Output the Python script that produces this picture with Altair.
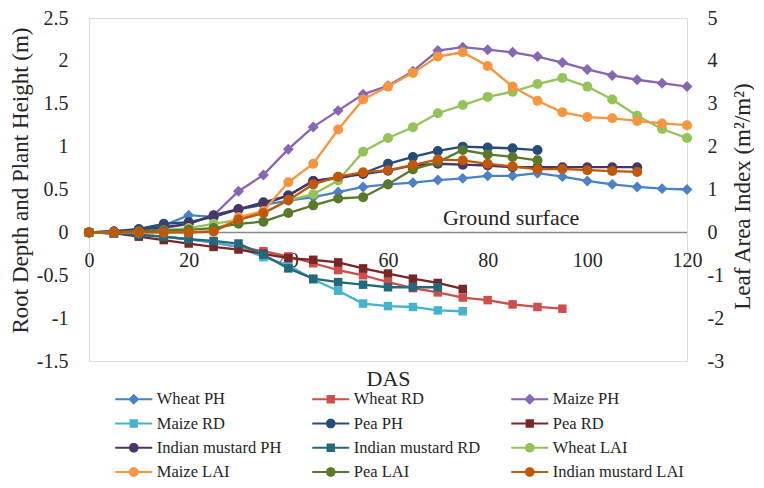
import math
import altair as alt
import pandas as pd

# ---------------- data ----------------
DAS = [0, 5, 10, 15, 20, 25, 30, 35, 40, 45, 50, 55, 60, 65, 70, 75, 80, 85, 90, 95, 100, 105, 110, 115, 120]

SERIES = ["Wheat PH", "Wheat RD", "Maize PH", "Maize RD", "Pea PH", "Pea RD",
          "Indian mustard PH", "Indian mustard RD", "Wheat LAI", "Maize LAI",
          "Pea LAI", "Indian mustard LAI"]

wheat_ph = [0, 0.01, 0.03, 0.08, 0.2, 0.18, 0.27, 0.32, 0.37, 0.41, 0.47, 0.53, 0.56, 0.58,
            0.61, 0.63, 0.66, 0.66, 0.69, 0.65, 0.6, 0.56, 0.53, 0.51, 0.5]
wheat_rd = [0, -0.01, -0.03, -0.05, -0.08, -0.12, -0.17, -0.22, -0.28, -0.36, -0.44, -0.5,
            -0.58, -0.65, -0.7, -0.76, -0.79, -0.84, -0.87, -0.89]
maize_ph = [0, 0.01, 0.03, 0.05, 0.1, 0.2, 0.48, 0.67, 0.97, 1.23, 1.42, 1.61, 1.71, 1.88,
            2.12, 2.16, 2.13, 2.1, 2.05, 1.98, 1.9, 1.83, 1.78, 1.74, 1.7]
maize_rd = [0, -0.01, -0.03, -0.05, -0.08, -0.12, -0.17, -0.29, -0.38, -0.55, -0.68, -0.83,
            -0.86, -0.87, -0.91, -0.92]
pea_ph = [0, 0.01, 0.04, 0.1, 0.12, 0.18, 0.27, 0.33, 0.43, 0.6, 0.63, 0.69, 0.8, 0.88,
          0.95, 1.0, 0.99, 0.98, 0.96]
pea_rd = [0, -0.01, -0.05, -0.09, -0.13, -0.17, -0.2, -0.25, -0.3, -0.32, -0.35, -0.42,
          -0.48, -0.54, -0.59, -0.66]
im_ph = [0, 0.01, 0.03, 0.06, 0.1, 0.2, 0.27, 0.35, 0.43, 0.6, 0.64, 0.68, 0.72, 0.78,
         0.8, 0.79, 0.78, 0.76, 0.76, 0.76, 0.76, 0.76, 0.76]
im_rd = [0, -0.01, -0.03, -0.05, -0.08, -0.1, -0.13, -0.26, -0.42, -0.54, -0.58, -0.61,
         -0.64, -0.64, -0.64]
wheat_lai = [0, 0, 0.02, 0.05, 0.1, 0.2, 0.3, 0.45, 0.75, 0.89, 1.21, 1.88, 2.2, 2.45,
             2.78, 2.97, 3.16, 3.28, 3.46, 3.6, 3.4, 3.1, 2.72, 2.41, 2.2]
maize_lai = [0, 0, 0, 0, 0, 0.02, 0.35, 0.5, 1.17, 1.6, 2.4, 3.1, 3.4, 3.72, 4.1, 4.2,
             3.88, 3.4, 3.07, 2.8, 2.69, 2.66, 2.6, 2.54, 2.5]
pea_lai = [0, 0, 0.03, 0.05, 0.06, 0.1, 0.2, 0.25, 0.45, 0.63, 0.79, 0.82, 1.12, 1.47,
           1.64, 1.92, 1.82, 1.76, 1.68]
im_lai = [0, 0, 0, 0, 0, 0.02, 0.3, 0.45, 0.75, 1.12, 1.3, 1.4, 1.45, 1.57, 1.7, 1.68,
          1.6, 1.54, 1.47, 1.48, 1.45, 1.43, 1.41]

VALUES = [wheat_ph, wheat_rd, maize_ph, maize_rd, pea_ph, pea_rd, im_ph, im_rd,
          wheat_lai, maize_lai, pea_lai, im_lai]
MARKERS = ["diamond", "square", "diamond", "square", "circle", "square", "circle", "square",
           "circle", "circle", "circle", "circle"]
SIDES = ["left"] * 8 + ["right"] * 4

COLORS = ["#4A82C8", "#CD4F4C", "#8766B5", "#45B3D0", "#264C7C", "#7A2626",
          "#4B3566", "#22697D", "#94C457", "#F8953F", "#587A2A", "#C0580A"]

X_TICKS = [0, 20, 40, 60, 80, 100, 120]
LEFT_TICKS = [-1.5, -1, -0.5, 0, 0.5, 1, 1.5, 2, 2.5]
RIGHT_TICKS = [-3, -2, -1, 0, 1, 2, 3, 4, 5]
GROUND = [0]

NOTE_TEXT = ["Ground surface"]
NOTE_X = [84.7]
NOTE_Y = [0.17]

# ---------------- table ----------------
rows = []
for i, (name, vals, mk, side, col) in enumerate(zip(SERIES, VALUES, MARKERS, SIDES, COLORS)):
    for d, v in zip(DAS, vals):
        rows.append({"series": name, "das": d, "value": v, "marker": mk, "side": side,
                     "hex": col, "k": i})
df = pd.DataFrame(rows)
note_df = pd.DataFrame({"text": NOTE_TEXT, "das": NOTE_X, "value": NOTE_Y})
ground_df = pd.DataFrame({"value": GROUND})


# legend symbols: a short line with the series marker (path units; 1 unit = sqrt(size)/2 px)
def poly(n, r):
    pts = [(r * math.cos(2 * math.pi * j / n), r * math.sin(2 * math.pi * j / n)) for j in range(n)]
    return "M" + "L".join(f"{x:.3f},{y:.3f}" for x, y in pts) + "Z"


LINE = "M-2,-0.11L2,-0.11L2,0.11L-2,0.11Z"
SYM = {
    "diamond": "M0,-0.6L0.6,0L0,0.6L-0.6,0Z",
    "square": "M-0.45,-0.45L0.45,-0.45L0.45,0.45L-0.45,0.45Z",
    "circle": poly(24, 0.52),
}
LEGEND_PATHS = [LINE + SYM[m] for m in MARKERS]

FONT = "Liberation Serif, Times New Roman, serif"
TXT = "#262626"
H = 343
W = 598
ZERO_PX = H * 1.5 / 4  # distance of y=0 above the plot bottom

x_axis = alt.Axis(values=X_TICKS, title="DAS", grid=False, ticks=False, domain=False,
                  labelFont=FONT, labelFontSize=20, labelColor=TXT,
                  labelPadding=-(ZERO_PX - 18), labelFlush=False, labelOverlap=False,
                  titleFont=FONT, titleFontSize=22, titleFontWeight="normal", titleColor=TXT,
                  titleY=17, titleBaseline="middle")
xs = alt.Scale(domain=[0, 120], nice=False, zero=False)
x_enc = alt.X("das:Q", scale=xs, axis=x_axis)

left_axis = alt.Axis(values=LEFT_TICKS, title="Root Depth and Plant Height (m)", grid=False,
                     ticks=False, domain=False, labelExpr="'' + datum.value",
                     labelFont=FONT, labelFontSize=20, labelColor=TXT, labelPadding=21,
                     titleFont=FONT, titleFontSize=23, titleFontWeight="normal", titleColor=TXT,
                     titleAngle=270, titleX=-69, titleY=162, titleBaseline="middle",
                     titleAlign="center")
right_axis = alt.Axis(values=RIGHT_TICKS, orient="right", title="Leaf Area Index (m²/m²)",
                      grid=False, ticks=False, domain=False, labelExpr="'' + datum.value",
                      labelFont=FONT, labelFontSize=20, labelColor=TXT, labelPadding=20,
                      titleFont=FONT, titleFontSize=23, titleFontWeight="normal", titleColor=TXT,
                      titleAngle=270, titleX=55, titleY=178, titleBaseline="middle",
                      titleAlign="center")
ls = alt.Scale(domain=[-1.5, 2.5], nice=False, zero=False)
rs = alt.Scale(domain=[-3, 5], nice=False, zero=False)
y_left = alt.Y("value:Q", scale=ls, axis=left_axis)
y_left_na = alt.Y("value:Q", scale=ls, axis=None)
y_right = alt.Y("value:Q", scale=rs, axis=right_axis)
y_right_na = alt.Y("value:Q", scale=rs, axis=None)

stroke_c = alt.Stroke("hex:N", scale=None)
fill_c = alt.Fill("hex:N", scale=None)

SYM_PX = 18.5
legend = alt.Legend(title=None, orient="none", direction="horizontal", legendX=26,
                    legendY=381 - SYM_PX / 2, columns=3,
                    columnPadding=30, rowPadding=6.25, padding=0, symbolSize=SYM_PX ** 2,
                    symbolStrokeWidth=0, symbolOffset=SYM_PX / 2, labelOffset=13.5,
                    labelFont=FONT, labelFontSize=16.5, labelColor=TXT, labelLimit=400)

base = alt.Chart(df)
left_base = base.transform_filter(alt.datum.side == "left")
right_base = base.transform_filter(alt.datum.side == "right")

ground = alt.Chart(ground_df).mark_rule(color="#8a8a8a", strokeWidth=1.5).encode(y=y_left_na)

lines_l = left_base.mark_line(strokeWidth=2.3).encode(x=x_enc, y=y_left, stroke=stroke_c,
                                                      detail="series:N", order="das:Q")
pts_l = [left_base.transform_filter(alt.datum.marker == m)
         .mark_point(shape=m, filled=True, opacity=1, size=s, strokeWidth=0)
         .encode(x=x_enc, y=y_left_na, fill=fill_c)
         for m, s in [("diamond", 120), ("square", 72), ("circle", 100)]]

note = alt.Chart(note_df).mark_text(font=FONT, fontSize=22, color=TXT, align="center",
                                    baseline="middle").encode(
    x=x_enc, y=y_left_na, text="text:N")

lines_r = right_base.mark_line(strokeWidth=2.3).encode(x=x_enc, y=y_right, stroke=stroke_c,
                                                       detail="series:N", order="das:Q")
pts_r = right_base.mark_point(shape="circle", filled=True, opacity=1, size=100,
                              strokeWidth=0).encode(x=x_enc, y=y_right_na, fill=fill_c)

legend_layer = base.transform_filter("false").mark_point(filled=True, opacity=1).encode(
    x=x_enc, y=y_left_na,
    color=alt.Color("series:N", scale=alt.Scale(domain=SERIES, range=COLORS), legend=legend),
    shape=alt.Shape("series:N", scale=alt.Scale(domain=SERIES, range=LEGEND_PATHS), legend=legend),
)

chart = alt.layer(ground, lines_l, *pts_l, note, lines_r, pts_r, legend_layer).resolve_scale(
    y="independent"
).properties(
    width=W, height=H,
    autosize=alt.AutoSizeParams(type="none"),
    padding={"left": 81, "top": 10, "right": 67, "bottom": 119},
).configure_view(stroke="#8a8a8a", strokeWidth=1.5).configure(font=FONT, background="white")

chart.save("out.html", embed_options={"renderer": "svg", "actions": False})
